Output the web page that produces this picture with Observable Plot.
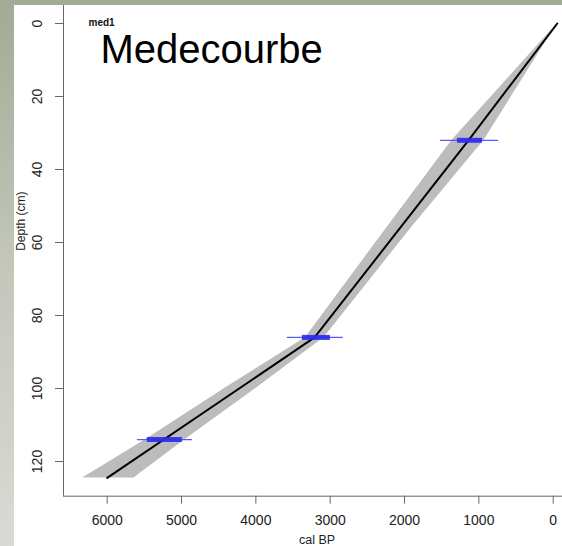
<!DOCTYPE html>
<html><head><meta charset="utf-8">
<script src="https://cdn.jsdelivr.net/npm/d3@7"></script>
<script src="https://cdn.jsdelivr.net/npm/@observablehq/plot@0.6"></script>
<style>
html,body{margin:0;padding:0;}
body{width:562px;height:546px;overflow:hidden;position:relative;background:linear-gradient(to bottom,#a2ab96 0%,#c3c8bb 50%,#dadad4 100%);}
#wrap{position:absolute;left:14px;top:5px;width:548px;height:541px;background:#fff;}
</style></head><body><div id="wrap"></div>
<script>
// age-depth model (median)
const modelDepth = [0, 32, 86, 124.5];
const modelAge = [-55, 1140, 3210, 6000];
// grey uncertainty envelope
const bandDepth = [0, 32, 56, 86, 100, 114, 124.5];
const bandMin = [-55, 930, 1910, 3080, 4000, 4950, 5640];
const bandMax = [-55, 1360, 2240, 3330, 4420, 5480, 6330];
// calibrated dates (blue)
const dateDepth = [32, 86, 114];
const dateRangeMin = [736, 2823, 4854];
const dateRangeMax = [1517, 3577, 5594];
const dateCoreMin = [952, 2997, 4989];
const dateCoreMax = [1288, 3374, 5460];
// ticks
const xTicks = [0, 1000, 2000, 3000, 4000, 5000, 6000];
const yTicks = [0, 20, 40, 60, 80, 100, 120];
const xDomain = [6588, -125];
const yDomain = [129.5, -4.93];

const model = modelDepth.map((d, i) => ({depth: d, age: modelAge[i]}));
const band = bandDepth.map((d, i) => ({depth: d, lo: bandMin[i], hi: bandMax[i]}));
const dates = dateDepth.map((d, i) => ({depth: d, r1: dateRangeMin[i], r2: dateRangeMax[i], c1: dateCoreMin[i], c2: dateCoreMax[i]}));

const axisColor = "#666";
const chart = Plot.plot({
  width: 548, height: 541,
  marginLeft: 49, marginRight: 0, marginTop: 0, marginBottom: 50.3,
  x: {domain: xDomain},
  y: {domain: yDomain},
  style: {fontFamily: "'Liberation Sans', Arial, Helvetica, sans-serif", background: "transparent", color: "#222"},
  marks: [
    Plot.areaX(band, {y: "depth", x1: "lo", x2: "hi", fill: "#bcbcbc", curve: "linear"}),
    Plot.line(model, {x: "age", y: "depth", stroke: "#000", strokeWidth: 2}),
    Plot.ruleY(dates, {y: "depth", x1: "r1", x2: "r2", stroke: "#5a5aff", strokeWidth: 1.2}),
    Plot.ruleY(dates, {y: "depth", x1: "c1", x2: "c2", stroke: "#2a2af0", strokeWidth: 5, strokeOpacity: 0.9}),
    Plot.ruleX([xDomain[0]], {stroke: axisColor}),
    Plot.ruleY([yDomain[0]], {stroke: axisColor}),
    Plot.axisX({ticks: xTicks, tickSize: 8, tickPadding: 11, tickFormat: d => String(d), fontSize: 14, stroke: axisColor, label: null}),
    Plot.axisY({ticks: yTicks, tickSize: 8, tickPadding: 14, tickRotate: -90, tickFormat: d => String(d), fontSize: 14, stroke: axisColor, label: null}),
    Plot.text(["cal BP"], {frameAnchor: "bottom", dx: 4, dy: 47.3, lineAnchor: "bottom", fontSize: 12.5, fill: "#222"}),
    Plot.text(["Depth (cm)"], {frameAnchor: "left", dx: -42, rotate: -90, lineAnchor: "middle", fontSize: 12, fill: "#222"}),
    Plot.text(["med1"], {frameAnchor: "top-left", dx: 25, dy: 20.5, lineAnchor: "bottom", textAnchor: "start", fontSize: 10, fontWeight: "bold", fill: "#111"}),
    Plot.text(["Medecourbe"], {frameAnchor: "top-left", dx: 37, dy: 57.5, lineAnchor: "bottom", textAnchor: "start", fontSize: 40, fill: "#000"})
  ]
});
document.getElementById("wrap").appendChild(chart);
</script>
</body></html>
